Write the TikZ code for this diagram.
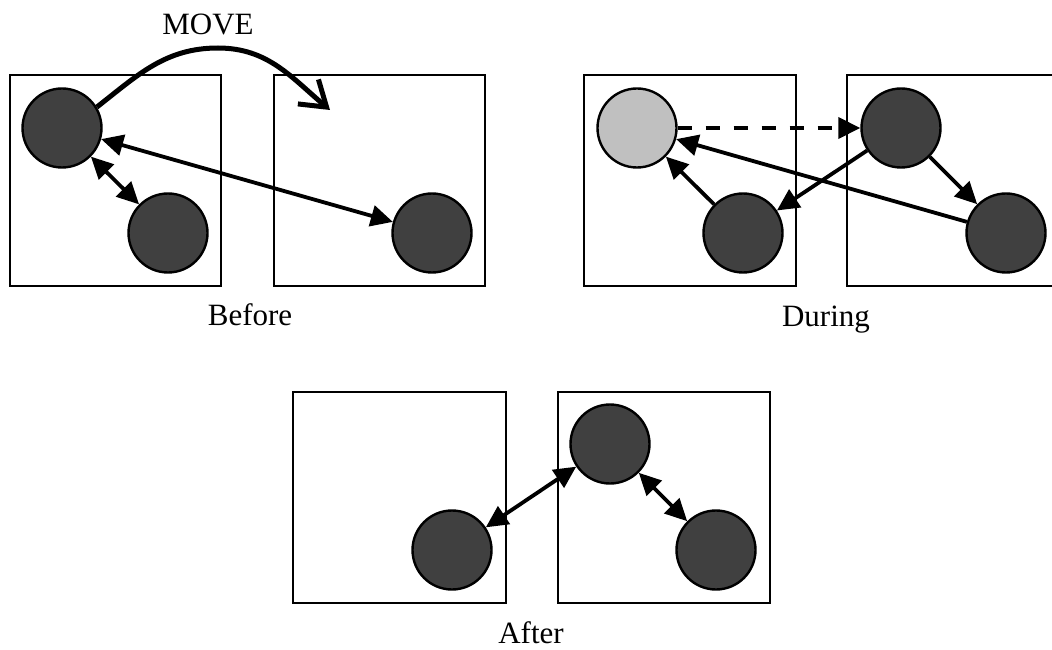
\documentclass[tikz,border=0pt]{standalone}
\usepackage{fontspec}
\setmainfont{Liberation Serif}
\usetikzlibrary{arrows.meta}
\definecolor{darkball}{HTML}{404040}
\definecolor{lightball}{HTML}{C0C0C0}
\begin{document}
\begin{tikzpicture}[x=1pt,y=1pt,
  panel/.style={draw, line width=2.2pt, minimum width=211pt, minimum height=211pt, inner sep=0pt},
  ball/.style={circle, draw, line width=2.4pt, fill=darkball, minimum size=79pt, inner sep=0pt},
  ghost/.style={ball, fill=lightball},
  link/.style={line width=3.8pt, -{Triangle[length=22pt,width=21pt]}},
  both/.style={line width=3.8pt, {Triangle[length=22pt,width=21pt]}-{Triangle[length=22pt,width=21pt]}},
  lbl/.style={font=\fontsize{31}{37}\selectfont, anchor=base, inner sep=0pt}]
\useasboundingbox (0,0) rectangle (1052,649);

% panels
\node[panel] (p1) at (115.5,468.5) {};
\node[panel] (p2) at (379.5,468.5) {};
\node[panel, minimum width=212pt] (p3) at (690,468.5) {};
\node[panel] (p4) at (952.5,468.5) {};
\node[panel, minimum width=213pt] (p5) at (399.5,151.5) {};
\node[panel, minimum width=212pt] (p6) at (664,151.5) {};

% Before
\node[ball] (a) at (62,521) {};
\node[ball] (b) at (168,416) {};
\node[ball] (c) at (432,416) {};
% During
\node[ghost] (d) at (637,521) {};
\node[ball] (e) at (901,521) {};
\node[ball] (f) at (743,416) {};
\node[ball] (g) at (1006,416) {};
% After
\node[ball] (h) at (452,99) {};
\node[ball] (i) at (610,205) {};
\node[ball] (j) at (716,99) {};

% labels
\node[lbl] (tmove) at (208,614) {MOVE};
\node[lbl] (tbefore) at (250,324) {Before};
\node[lbl] (tduring) at (826,323) {During};
\node[lbl] (tafter) at (531,6) {After};

% Before connectors
\coordinate (mvtop) at (218,601);
\coordinate (mvend) at (330,539);
\draw[line width=5pt, line cap=butt, -{Straight Barb[length=24pt,width=32pt]}]
  (a.31) to[out=38,in=180] (mvtop) to[out=0,in=140] (mvend);
\draw[both] (a) -- (c);
\draw[both] (a) -- (b);

% During connectors
\draw[link, dash pattern=on 14pt off 14pt] (d) -- (e);
\draw[link] (f) -- (d);
\draw[link] (e) -- (f);
\draw[link] (e) -- (g);
\draw[link] (g) -- (d);

% After connectors
\draw[both] (h) -- (i);
\draw[both] (i) -- (j);
\end{tikzpicture}
\end{document}
